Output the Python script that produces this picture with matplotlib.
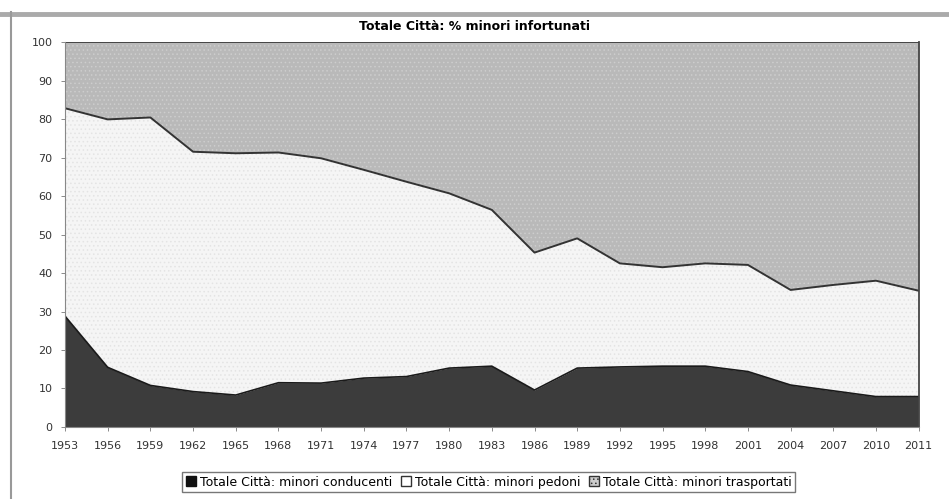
import numpy as np
import matplotlib
matplotlib.use("Agg")
import matplotlib.pyplot as plt
from matplotlib.lines import Line2D

years = ["1953", "1956", "1959", "1962", "1965", "1968", "1971", "1974", "1977", "1980",
         "1983", "1986", "1989", "1992", "1995", "1998", "2001", "2004", "2007", "2010", "2011"]

# % children injured, stacked to 100
conducenti = [28.8, 15.5, 10.8, 9.2, 8.3, 11.5, 11.4, 12.7, 13.1, 15.3,
              15.8, 9.6, 15.3, 15.6, 15.8, 15.8, 14.4, 10.9, 9.4, 7.9, 7.9]
pedoni_cum = [82.8, 79.9, 80.4, 71.5, 71.1, 71.3, 69.8, 66.8, 63.7, 60.7,
              56.4, 45.3, 49.0, 42.5, 41.5, 42.5, 42.1, 35.6, 36.9, 38.0, 35.4]

labels = ["Totale Città: minori conducenti",
          "Totale Città: minori pedoni",
          "Totale Città: minori trasportati"]

c_dark = "#3c3c3c"
c_light = "#f5f5f5"
c_gray = "#b9b9b9"

plt.rcParams['font.family'] = ['DejaVu Sans']
plt.rcParams['hatch.linewidth'] = 0.6

x = np.arange(len(years))
cond = np.array(conducenti)
ped = np.array(pedoni_cum)
top = np.full(len(years), 100.0)

fig = plt.figure(figsize=(9.49, 4.99), dpi=100)
ax = fig.add_axes([0.0685, 0.1443, 0.8995, 0.7715])

ax.fill_between(x, 0, cond, facecolor=c_dark, edgecolor=c_dark, linewidth=0)
plt.rcParams['hatch.color'] = "#dcdcdc"
ax.fill_between(x, cond, ped, facecolor=c_light, hatch="....", edgecolor="#e4e4e4", linewidth=0)
ax.fill_between(x, ped, top, facecolor=c_gray, hatch="....", edgecolor="#cdcdcd", linewidth=0)

ax.plot(x, cond, color="#1a1a1a", lw=1.2)
ax.plot(x, ped, color="#333333", lw=1.4)
ax.plot(x, top, color="#444444", lw=1.4)

ax.set_xlim(0, len(years) - 1)
ax.set_ylim(0, 100)
ax.set_xticks(x)
ax.set_xticklabels(years, fontsize=8, color="#333333")
ax.set_yticks(np.arange(0, 101, 10))
ax.set_yticklabels([str(v) for v in range(0, 101, 10)], fontsize=8, color="#333333")
ax.tick_params(axis="x", length=3, width=0.6, color="#777777", pad=7)
ax.tick_params(axis="y", length=3, width=0.6, color="#777777", pad=6)

for s in ["left", "bottom"]:
    ax.spines[s].set_color("#888888")
    ax.spines[s].set_linewidth(0.8)
ax.spines["right"].set_color("#444444")
ax.spines["right"].set_linewidth(1.3)
ax.spines["top"].set_visible(False)

fig.suptitle("Totale Città: % minori infortunati", fontsize=9, fontweight="bold", y=0.96)

handles = [
    plt.Rectangle((0, 0), 1, 1, facecolor="#111111", edgecolor="#111111"),
    plt.Rectangle((0, 0), 1, 1, facecolor="white", edgecolor="#333333"),
    plt.Rectangle((0, 0), 1, 1, facecolor="#cccccc", edgecolor="#333333", hatch="...."),
]
fig.legend(handles, labels, loc="center", bbox_to_anchor=(0.515, 0.034), ncol=3,
           fontsize=9, frameon=True, fancybox=False, edgecolor="#555555",
           handlelength=0.8, handleheight=0.8, handletextpad=0.3, columnspacing=0.7,
           borderpad=0.3, borderaxespad=0)

# chart frame remnants: grey band at top and left edge
fig.add_artist(Line2D([0, 1], [1 - 14 / 499, 1 - 14 / 499], transform=fig.transFigure,
                      color="#aaaaaa", lw=3.5))
fig.add_artist(Line2D([11 / 949, 11 / 949], [0, 1 - 12 / 499], transform=fig.transFigure,
                      color="#999999", lw=1.5))

fig.savefig("out.png", dpi=100)
